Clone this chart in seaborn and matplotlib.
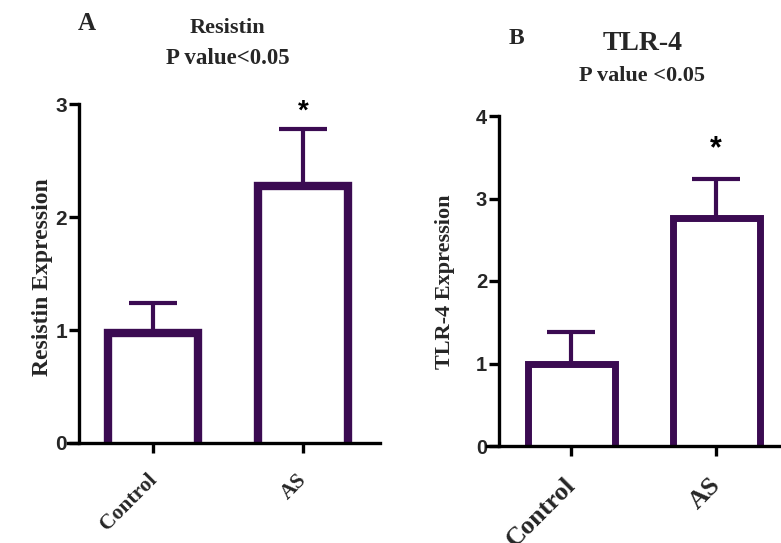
import matplotlib
matplotlib.use("Agg")
import matplotlib.pyplot as plt
import matplotlib.transforms as mtransforms
import seaborn as sns
import numpy as np

# ---------------- data ----------------
groups = ["Control", "AS"]
resistin_mean = [0.97, 2.27]
resistin_sem = [0.27, 0.51]
tlr4_mean = [1.00, 2.76]
tlr4_sem = [0.38, 0.48]
resistin_yticks = [0, 1, 2, 3]
tlr4_yticks = [0, 1, 2, 3, 4]

PURPLE = "#3b0b52"
SERIF = "Liberation Serif"
SANS = "Liberation Sans"

sns.set_style("ticks")
plt.rcParams["font.family"] = [SERIF, "DejaVu Serif"]

W, H = 781, 543
fig = plt.figure(figsize=(W / 100, H / 100), dpi=100)


def px_axes(left, right, bottom, top):
    return fig.add_axes([left / W, 1 - bottom / H, (right - left) / W, (bottom - top) / H])


def draw_panel(ax, means, sems, ymax, yticks, xlim, spine_x, bar_lw, err_lw,
               cap_pt, xlab_size, xlab_pad, xlab_dx, ytick_size, star_y, star_size):
    sns.barplot(x=groups, y=means, ax=ax, width=0.6, color="white",
                edgecolor=PURPLE, linewidth=bar_lw, errorbar=None,
                saturation=1, zorder=3)
    # push the bottom edge of each bar below the axis so it is clipped away
    for p in ax.patches:
        h = p.get_height()
        p.set_y(-0.1 * ymax)
        p.set_height(h + 0.1 * ymax)
    ax.errorbar(x=np.arange(len(groups)), y=means,
                yerr=[np.zeros(len(sems)), sems], fmt="none",
                ecolor=PURPLE, elinewidth=err_lw, capsize=cap_pt,
                capthick=err_lw, zorder=2)
    ax.spines["left"].set_position(("data", spine_x))
    ax.set_xlim(*xlim)
    ax.set_ylim(0, ymax)
    for s in ("top", "right"):
        ax.spines[s].set_visible(False)
    for s in ("left", "bottom"):
        ax.spines[s].set_linewidth(2.4)
        ax.spines[s].set_color("black")
        ax.spines[s].set_zorder(5)
    ax.set_yticks(yticks)
    ax.set_yticklabels([str(t) for t in yticks], fontfamily=SANS,
                       fontweight="bold", fontsize=ytick_size)
    ax.tick_params(axis="both", length=7, width=2.4, color="black")
    ax.tick_params(axis="y", pad=1.5)
    ax.tick_params(axis="x", pad=xlab_pad)
    ax.set_xticks(range(len(groups)))
    ax.set_xticklabels(groups, rotation=45, ha="right", va="top",
                       rotation_mode="anchor", fontfamily=SERIF,
                       fontweight="bold", fontsize=xlab_size)
    off = mtransforms.ScaledTranslation(xlab_dx / 100, 0, fig.dpi_scale_trans)
    for lab in ax.get_xticklabels():
        lab.set_transform(lab.get_transform() + off)
    ax.set_xlabel("")
    ax.set_ylabel("")
    ax.patch.set_alpha(0)
    ax.text(1, star_y, "*", ha="center", va="baseline", fontfamily=SANS,
            fontweight="bold", fontsize=star_size, color="black")


# Panel A
axA = px_axes(68, 380, 443, 104)
draw_panel(axA, resistin_mean, resistin_sem, 3, resistin_yticks,
           xlim=((68 - 153) / 150, (380 - 153) / 150), spine_x=(79 - 153) / 150,
           bar_lw=6, err_lw=3, cap_pt=17.5, xlab_size=15.5, xlab_pad=12.5,
           xlab_dx=-6, ytick_size=15, star_y=2.87, star_size=20)

# Panel B
axB = px_axes(487, 781, 446, 116)
draw_panel(axB, tlr4_mean, tlr4_sem, 4, tlr4_yticks,
           xlim=((487 - 571) / 145, (781 - 571) / 145), spine_x=(499 - 571) / 145,
           bar_lw=5, err_lw=3, cap_pt=17.5, xlab_size=19, xlab_pad=13,
           xlab_dx=-7, ytick_size=14.5, star_y=3.5, star_size=22)


def ftext(x, y, s, size, **kw):
    fig.text(x / W, 1 - y / H, s, fontsize=size, fontweight="bold",
             fontfamily=SERIF, ha="center", va="center", **kw)


ftext(87, 23, "A", 18)
ftext(227, 28, "Resistin", 16)
ftext(228, 58, "P value<0.05", 16.5)
ftext(516, 39, "B", 17)
ftext(643, 44, "TLR-4", 20)
ftext(642, 76, "P value <0.05", 16)
ftext(43, 277, "Resistin Expression", 17, rotation=90)
ftext(445, 282, "TLR-4 Expression", 16, rotation=90)

fig.savefig("out.png", dpi=100)
